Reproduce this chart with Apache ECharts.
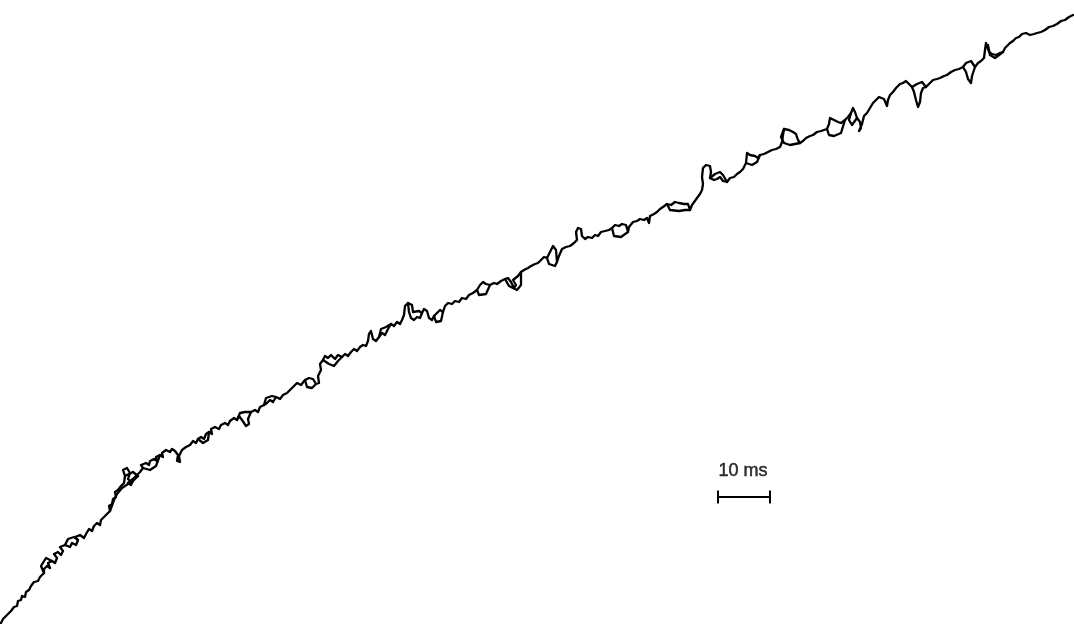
<!DOCTYPE html>
<html>
<head>
<meta charset="utf-8">
<script src="https://cdn.jsdelivr.net/npm/echarts@6/dist/echarts.min.js"></script>
<style>html,body{margin:0;padding:0;background:#fff;}#chart{width:1074px;height:624px;}</style>
</head>
<body>
<div id="chart"></div>
<script>
// Trace samples: [time units, amplitude units]
const traceSeg1 = [[1,623],[3,619],[5,620],[7,615],[9,616],[11,611],[13,612],[14,607],[17,606],[18,601],[21,600],[22,596],[25,597],[26,592],[29,590],[31,586],[33,587],[34,582],[36,580],[38,581],[40,577],[42,578],[44,573],[46,574],[44,569],[47,566],[50,568],[48,563],[52,561],[55,563],[57,558],[54,554],[58,552],[61,555],[63,551],[60,547],[65,545],[70,547],[72,543],[76,545],[78,540],[75,537],[80,535],[84,538],[86,534],[89,529],[92,531],[94,526],[97,523],[100,525],[101,520],[104,517],[106,519],[107,514],[110,511],[109,506],[112,504],[113,499],[116,497],[115,492],[118,490],[121,486],[124,483],[125,476],[123,470],[127,468],[130,473],[128,479],[131,482],[135,479],[138,476],[133,481],[131,485],[128,483],[134,478],[140,472],[143,468],[141,465],[146,463],[149,465],[150,461],[154,459],[157,461],[156,457],[160,455],[163,457],[162,453],[166,450],[170,452],[172,449],[175,451],[178,455],[177,461],[180,462],[179,456],[182,450],[186,447],[190,445],[193,441]];
const traceSeg2 = [[196,443],[198,439],[201,437],[204,439],[206,434],[209,432],[212,434],[211,429],[215,427],[219,429],[221,425],[225,423],[228,425],[230,421],[234,418],[237,420],[239,416],[242,420],[246,426],[249,424],[248,419],[251,412],[255,410],[258,412],[260,407],[264,405],[267,403],[270,400],[273,402],[276,397],[280,399],[283,395],[287,393],[290,390],[294,386],[297,383],[301,385],[305,380],[309,378],[313,379],[316,384],[319,383],[318,376],[321,370],[320,364],[323,360],[325,356],[328,358],[331,355],[335,359],[338,355],[342,357],[345,354],[348,356],[351,352]];
const traceSeg3 = [[354,349],[357,351],[360,347],[363,345],[366,346],[368,341],[369,334],[371,331],[373,339],[376,341],[379,337],[382,333],[385,335],[388,329],[391,324],[394,326],[397,322],[400,324],[402,320],[404,315],[405,306],[408,303],[409,312],[411,318],[414,320],[417,317],[420,318],[422,313],[424,309],[427,311],[429,318],[432,320],[434,316],[437,313],[440,310],[443,312],[445,306],[448,303],[452,304],[455,301],[459,302],[462,298],[466,299],[469,295],[473,293],[477,290],[480,285],[483,282],[486,284],[490,285],[494,283],[497,284],[501,281],[505,279],[508,278],[511,282],[514,288],[516,285],[513,280],[518,276],[521,272],[524,270],[528,268],[531,266],[535,264],[538,263],[541,260]];
const traceSeg4 = [[544,257],[547,258],[550,252],[553,246],[556,250],[557,262],[559,256],[562,249],[566,247],[570,246],[574,243],[577,240],[576,232],[578,228],[581,229],[582,236],[585,239],[588,237],[592,238],[595,235],[598,236],[601,232],[605,231],[609,230],[612,228],[615,225],[619,226],[622,224],[626,225],[628,232],[630,234],[629,227],[633,222],[637,221],[640,219],[644,220],[647,218],[649,223],[651,225],[650,216],[654,214],[657,212],[660,209],[663,207],[667,204],[671,205],[675,202],[679,203],[684,204],[688,204],[690,210],[692,205],[694,203],[697,198],[700,194],[702,190],[703,184],[702,177],[703,168],[706,165],[710,166],[711,172],[710,178],[714,180],[717,179],[720,177]];
const traceSeg5 = [[723,181],[727,182],[730,178],[734,177],[737,174],[740,172],[743,169],[746,163],[747,153],[750,155],[755,156],[758,158],[760,155],[764,154],[768,152],[772,150],[776,149],[780,147],[782,142],[783,135],[784,129],[789,130],[793,132],[796,134],[798,140],[800,143],[803,141],[806,138],[810,136],[813,135],[817,132],[821,131],[824,130],[827,129],[829,124],[830,118],[834,120],[838,122],[841,123],[845,120],[848,117],[851,113],[853,108],[855,112],[857,118],[860,122],[861,128],[859,131],[862,124],[864,116],[867,113],[870,108],[873,103],[876,100],[879,97],[881,95],[884,99],[887,106],[888,100],[890,95],[893,92],[896,88],[900,84]];
const traceSeg6 = [[903,83],[906,81],[909,84],[912,87],[914,92],[916,100],[918,107],[920,102],[921,93],[923,88],[926,87],[930,83],[933,80],[937,79],[940,78],[944,76],[947,75],[951,72],[955,70],[959,69],[963,67],[966,72],[968,79],[971,83],[972,76],[975,67],[978,63],[981,61],[984,58],[985,50],[986,43],[988,45],[989,52],[992,54],[996,55],[1000,53],[1003,52],[1005,48],[1007,46],[1010,43],[1013,41],[1016,38],[1019,37],[1022,34],[1026,33],[1030,35],[1034,34],[1037,33],[1041,32],[1045,30],[1049,27],[1053,26],[1057,24],[1061,21],[1065,20],[1069,17],[1073,15]];

// Return strokes that close the small loops along the trace
const loopStrokes = [
  [[44,573],[41,566],[46,558],[52,561]],
  [[65,545],[68,539],[74,537],[78,540]],
  [[110,511],[114,500],[117,494],[122,488],[131,482]],
  [[125,476],[133,472],[138,476]],
  [[143,468],[150,470],[156,466],[160,455]],
  [[198,439],[203,443],[208,440],[209,432]],
  [[237,420],[240,413],[245,412],[251,412]],
  [[264,405],[266,398],[272,396],[276,397]],
  [[305,380],[307,387],[312,388],[316,384]],
  [[323,360],[329,364],[334,366],[338,361],[342,357]],
  [[379,337],[381,329],[386,327],[391,324]],
  [[408,303],[412,305],[413,312],[419,311],[422,313]],
  [[434,316],[436,322],[441,321],[443,312]],
  [[477,290],[479,295],[486,294],[490,285]],
  [[505,279],[509,286],[517,290],[521,285],[521,272]],
  [[547,258],[549,264],[555,266],[557,262]],
  [[612,228],[614,236],[621,237],[628,232]],
  [[667,204],[670,210],[679,211],[685,210],[690,210]],
  [[710,178],[715,174],[720,172],[723,175],[727,182]],
  [[746,163],[752,165],[757,162],[760,155]],
  [[784,129],[781,137],[784,143],[790,145],[800,143]],
  [[827,129],[829,135],[834,136],[841,133],[845,120]],
  [[851,113],[849,120],[852,125],[857,118]],
  [[912,87],[917,84],[922,82],[926,87]],
  [[963,67],[966,63],[971,61],[975,67]],
  [[988,45],[990,55],[995,58],[1003,52]]
];

// Scale bar: 10 ms
const scaleBar = [[718,497],[770,497]];
const scaleLabelPos = [[743,471]];
const scaleLabel = '10 ms';

const trace = [].concat(traceSeg1, traceSeg2, traceSeg3, traceSeg4, traceSeg5, traceSeg6);

const lineStyle = {color: '#000', width: 2.3, join: 'round', cap: 'round'};
const series = [
  {type: 'line', data: trace, showSymbol: false, lineStyle: lineStyle, silent: true}
];
loopStrokes.forEach(function (s) {
  series.push({type: 'line', data: s, showSymbol: false, lineStyle: lineStyle, silent: true});
});
series.push({
  type: 'line',
  data: scaleBar,
  symbol: 'rect',
  symbolSize: [2, 13],
  showSymbol: true,
  itemStyle: {color: '#000'},
  lineStyle: {color: '#000', width: 2},
  silent: true
});
series.push({
  type: 'scatter',
  data: scaleLabelPos,
  symbolSize: 1,
  itemStyle: {color: 'rgba(0,0,0,0)'},
  label: {
    show: true,
    position: 'inside',
    formatter: scaleLabel,
    color: '#000',
    textBorderColor: '#000',
    textBorderWidth: 0.5,
    fontFamily: 'Liberation Sans',
    fontSize: 18
  },
  silent: true
});

const chart = echarts.init(document.getElementById('chart'), null, {renderer: 'canvas'});
chart.setOption({
  animation: false,
  backgroundColor: '#ffffff',
  grid: {left: 0, right: 0, top: 0, bottom: 0},
  xAxis: {type: 'value', min: 0, max: 1074, show: false},
  yAxis: {type: 'value', min: 0, max: 624, inverse: true, show: false},
  series: series
});
</script>
</body>
</html>
